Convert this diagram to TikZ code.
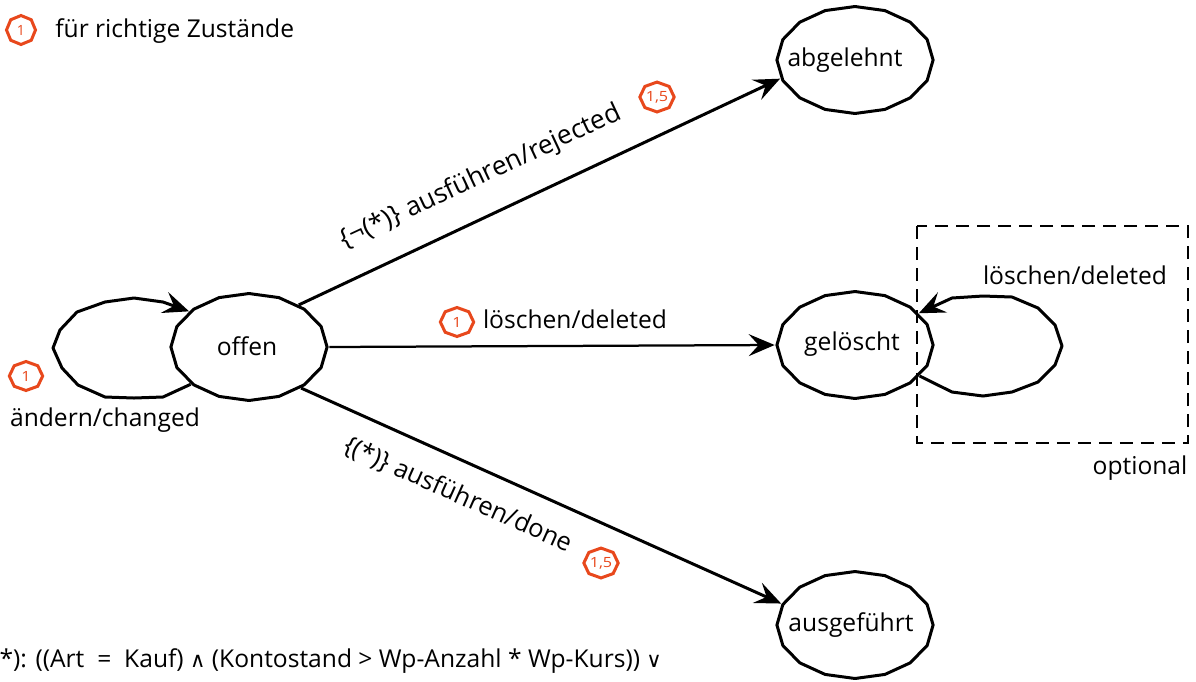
\documentclass[tikz,border=0pt]{standalone}
\usepackage{fontspec}
\setmainfont{Open Sans}
\newfontfamily\symfont{DejaVu Sans}
\usetikzlibrary{arrows.meta,shapes.geometric}
\definecolor{badgered}{RGB}{232,72,28}
\newcommand{\logand}{{\symfont\fontsize{12}{14}\selectfont ∧}}
\newcommand{\logor}{{\symfont\fontsize{12}{14}\selectfont ∨}}
\tikzset{
  zustand/.style={draw, regular polygon, regular polygon sides=16, shape border rotate=11.25, line width=0.06cm, line join=round, inner sep=0pt, minimum size=2.14cm, xscale=1.46},
  trans/.style={line width=0.06cm, line join=round, -{Stealth[length=0.52cm,width=0.44cm,inset=0.2cm]}},
  badge/.style={draw=badgered, text=badgered, line width=0.06cm, regular polygon, regular polygon sides=8, shape border rotate=22.5, inner sep=0pt, minimum size=0.58cm, xscale=1.15, font=\fontsize{8}{9}\selectfont},
  txt/.style={inner sep=0pt, font=\fontsize{14}{16}\selectfont}
}
\begin{document}
\begin{tikzpicture}[x=0.02cm,y=-0.02cm]
\useasboundingbox (0,0) rectangle (1196,681);
\clip (0,0) rectangle (1196,681);

\node[zustand] (offen) at (249,347) {};
\node[zustand] (abgelehnt) at (855,60) {};
\node[zustand] (geloescht) at (855,345) {};
\node[zustand] (ausgefuehrt) at (855,625) {};

\node[txt] (offentxt) at (247,346) {offen};
\node[txt] (abgelehnttxt) at (845,60) {abgelehnt};
\node[txt] (geloeschttxt) at (852,344) {gelöscht};
\node[txt] (ausgefuehrttxt) at (851,625) {ausgeführt};

\draw[trans] (offen.51.5) -- (abgelehnt.200.4);
\draw[trans, line width=0.045cm] (offen.0) -- (geloescht.180);
\draw[trans] (offen.-49.4) -- (ausgefuehrt.157);

% the two loops
\draw[trans] (offen.223.5) -- (163,397) -- (134,398) -- (105,397) -- (78,385) -- (62,368) -- (53,348) -- (60,330) -- (77,312) -- (105,302) -- (134,298) -- (163,302) -- (offen.139.6);
\draw[trans] (geloescht.-35.9) -- (952,392) -- (983,396) -- (1012,392) -- (1038,382) -- (1055,365) -- (1062,346) -- (1055,325) -- (1038,308) -- (1012,297) -- (983,296) -- (952,298) -- (geloescht.36);

\draw[line width=0.055cm, dash pattern=on 0.26cm off 0.16cm] (917,226) rectangle (1188,443);

\node[badge, xscale=0.87] (b1) at (21,30) {1};
\node[txt, anchor=west] (legende) at (55,31) {für richtige Zustände};
\node[badge] (b2) at (26,376) {1};
\node[txt] (aendern) at (105,420) {ändern/changed};
\node[badge] (b3) at (457,322) {1};
\node[txt] (loeschen) at (575,319) {löschen/deleted};
\node[txt] (loeschen2) at (1075,275) {löschen/deleted};
\node[txt] (optional) at (1140,468) {optional};
\node[txt, rotate=25, font=\fontsize{15}{16}\selectfont] (abl) at (481,177) {\{¬(*)\} ausführen/rejected};
\node[badge] (b4) at (657,97) {1,5};
\node[txt, rotate=-24, font=\fontsize{14.5}{16}\selectfont] (ausf) at (458,495) {\{(*)\} ausführen/done};
\node[badge] (b5) at (601,563) {1,5};
\node[txt, anchor=west] (bed) at (-8,661) {(*): ((Art\hspace{0.13cm} = \hspace{0.13cm}Kauf) \logand{} (Kontostand > Wp-Anzahl * Wp-Kurs)) \logor};

\end{tikzpicture}
\end{document}
